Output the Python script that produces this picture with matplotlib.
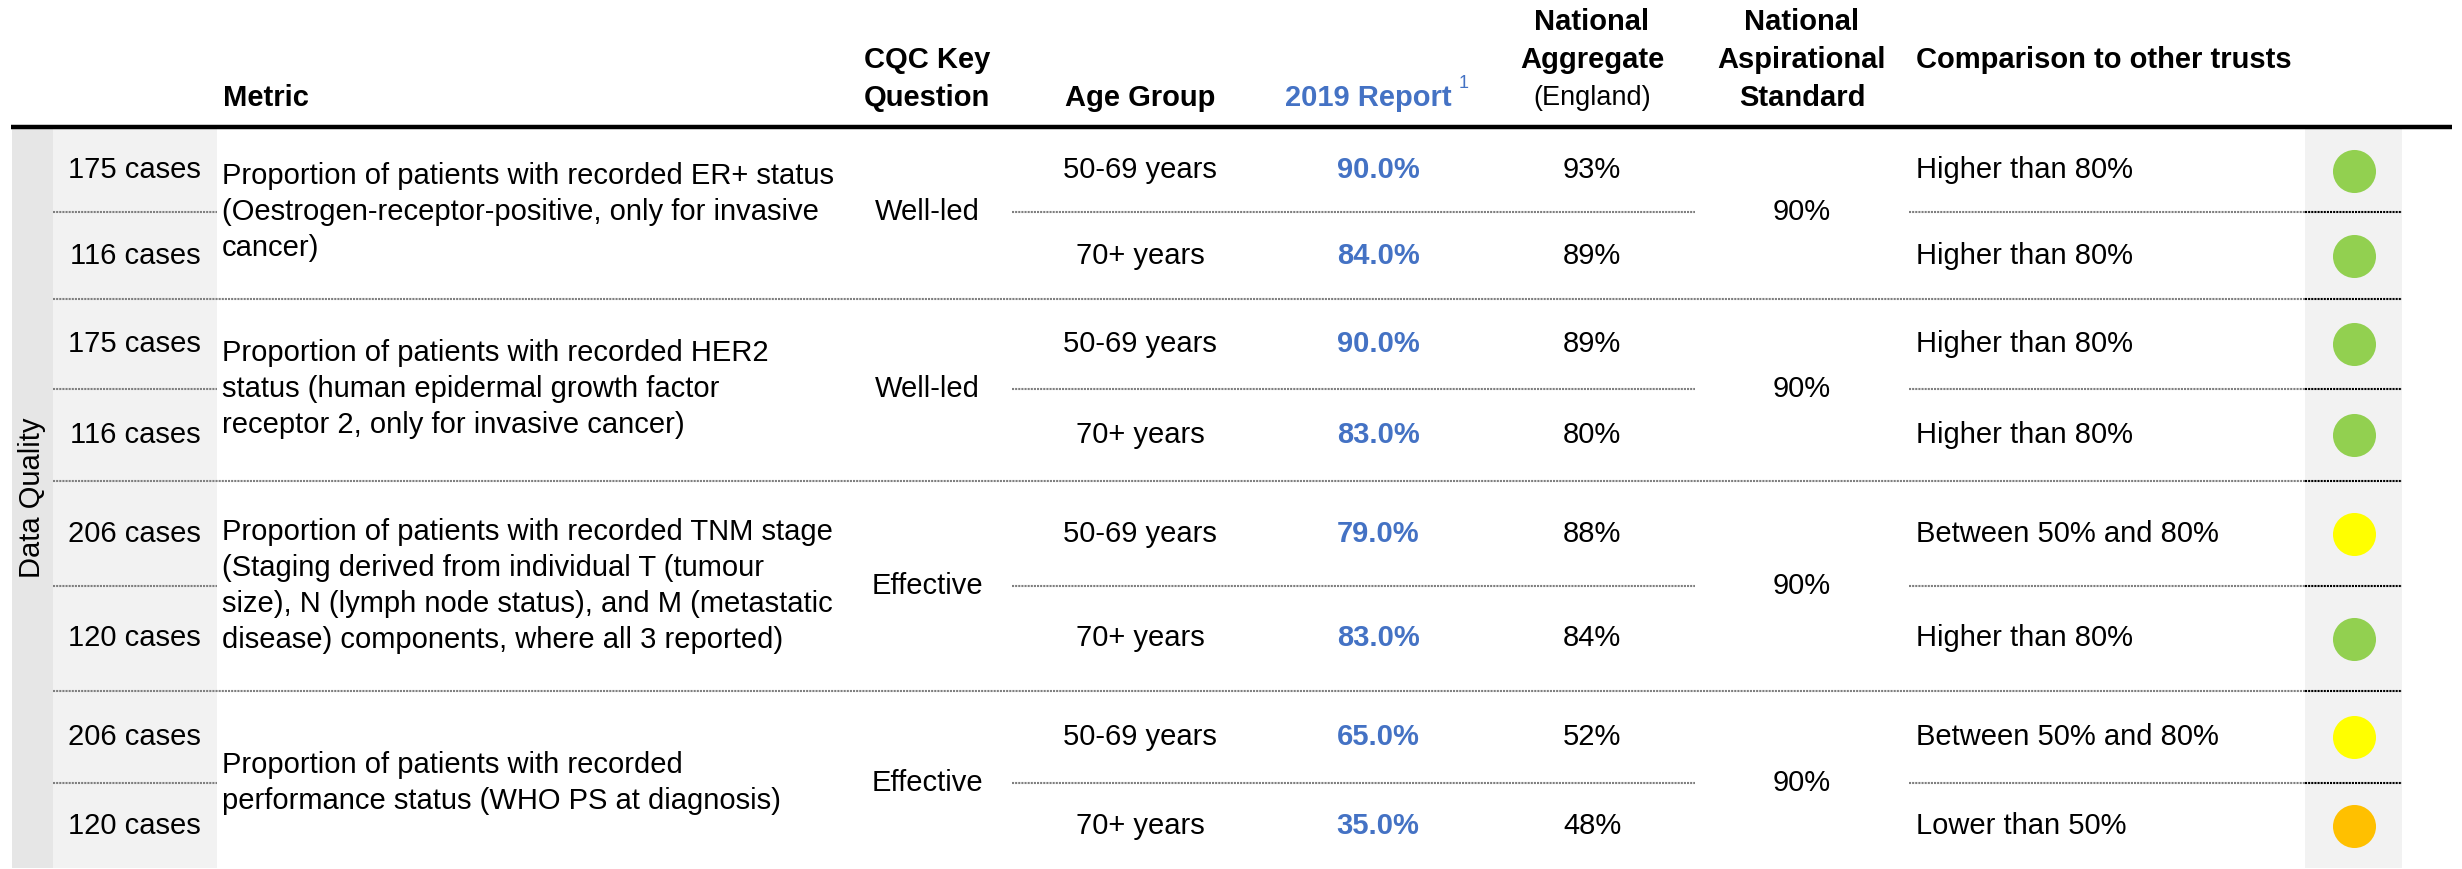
import matplotlib.pyplot as plt

plt.rcParams['font.family'] = ['Liberation Sans', 'DejaVu Sans']

# ====================== TABLE DATA ======================
cases = [175, 116, 175, 116, 206, 120, 206, 120]
metrics = [
    'Proportion of patients with recorded ER+ status\n(Oestrogen-receptor-positive, only for invasive\ncancer)',
    'Proportion of patients with recorded HER2\nstatus (human epidermal growth factor\nreceptor 2, only for invasive cancer)',
    'Proportion of patients with recorded TNM stage\n(Staging derived from individual T (tumour\nsize), N (lymph node status), and M (metastatic\ndisease) components, where all 3 reported)',
    'Proportion of patients with recorded\nperformance status (WHO PS at diagnosis)',
]
cqc_question = ['Well-led', 'Well-led', 'Effective', 'Effective']
age_groups = ['50-69 years', '70+ years'] * 4
report_2019 = [90.0, 84.0, 90.0, 83.0, 79.0, 83.0, 65.0, 35.0]
national_agg = [93, 89, 89, 80, 88, 84, 52, 48]
aspirational = [90, 90, 90, 90]
comparison = ['Higher than 80%', 'Higher than 80%', 'Higher than 80%', 'Higher than 80%',
              'Between 50% and 80%', 'Higher than 80%', 'Between 50% and 80%', 'Lower than 50%']
rating_colors = {'Higher than 80%': '#92D050', 'Between 50% and 80%': '#FFFF00',
                 'Lower than 50%': '#FFC000'}

# layout in pixels
row_edges = [129, 212, 299, 389, 481, 586, 691, 783, 868]
BLUE = '#4472C4'
GREY_LINE = '#7F7F7F'
FS = 21
LINE_H = 36
HEAD_Y = [22, 60, 98]

fig = plt.figure(figsize=(24.62, 8.69), dpi=100)
ax = fig.add_axes([0, 0, 1, 1])
ax.set_xlim(0, 2462)
ax.set_ylim(869, 0)
ax.axis('off')

# shaded columns
ax.fill_between([12, 53], 129, 868, color='#E6E6E6', lw=0)
ax.fill_between([53, 217], 129, 868, color='#F2F2F2', lw=0)
ax.fill_between([2305, 2402], 129, 868, color='#F2F2F2', lw=0)

# header
ax.plot([11, 2452], [127, 127], color='black', lw=3.2, solid_capstyle='butt')

def header(x, lines, ys, ha='center', color='black', bold=True, size=FS):
    for y, t in zip(ys, lines):
        ax.text(x, y, t, ha=ha, va='center', fontsize=size, color=color,
                fontweight='bold' if bold else 'normal')

header(223, ['Metric'], HEAD_Y[2:], ha='left')
header(927, ['CQC Key', 'Question'], HEAD_Y[1:])
header(1140, ['Age Group'], HEAD_Y[2:])
header(1368, ['2019 Report'], HEAD_Y[2:], color=BLUE)
ax.text(1464, 84, '1', ha='center', va='center', fontsize=13, color=BLUE)
header(1592, ['National', 'Aggregate'], HEAD_Y[:2])
header(1592, ['(England)'], HEAD_Y[2:], bold=False, size=19.5)
header(1802, ['National', 'Aspirational', 'Standard'], HEAD_Y)
header(1916, ['Comparison to other trusts'], HEAD_Y[1:2], ha='left')

ax.text(32, 498, 'Data Quality', rotation=90, ha='center', va='center', fontsize=FS)

dot = dict(lw=1.5, linestyle=(0, (1, 0.5)), solid_capstyle='butt')

def hline(y, x0, x1, color=GREY_LINE):
    ax.plot([x0, x1], [y, y], color=color, **dot)

# per-row cells
for i in range(len(cases)):
    yc = (row_edges[i] + row_edges[i + 1]) / 2
    ax.text(201, yc, f'{cases[i]} cases', ha='right', va='center', fontsize=FS)
    ax.text(1140, yc, age_groups[i], ha='center', va='center', fontsize=FS)
    ax.text(1378, yc, f'{report_2019[i]:.1f}%', ha='center', va='center',
            fontsize=FS, fontweight='bold', color=BLUE)
    ax.text(1592, yc, f'{national_agg[i]}%', ha='center', va='center', fontsize=FS)
    ax.text(1916, yc, comparison[i], ha='left', va='center', fontsize=FS)
    ax.scatter([2354], [yc], s=960, color=rating_colors[comparison[i]], lw=0, zorder=3)

# per-group cells and lines
for g in range(len(metrics)):
    ymid = row_edges[2 * g + 1]
    lines = metrics[g].split('\n')
    for k, t in enumerate(lines):
        ax.text(222, ymid + (k - (len(lines) - 1) / 2) * LINE_H, t,
                ha='left', va='center', fontsize=FS)
    ax.text(927, ymid, cqc_question[g], ha='center', va='center', fontsize=FS)
    ax.text(1802, ymid, f'{aspirational[g]}%', ha='center', va='center', fontsize=FS)

    hline(ymid, 53, 217)
    hline(ymid, 1012, 1695)
    hline(ymid, 1909, 2305)
    hline(ymid, 2305, 2402, color='black')

    if g < len(metrics) - 1:
        ybot = row_edges[2 * g + 2]
        hline(ybot, 53, 2305)
        hline(ybot, 2305, 2402, color='black')

fig.savefig('out.png', dpi=100)
